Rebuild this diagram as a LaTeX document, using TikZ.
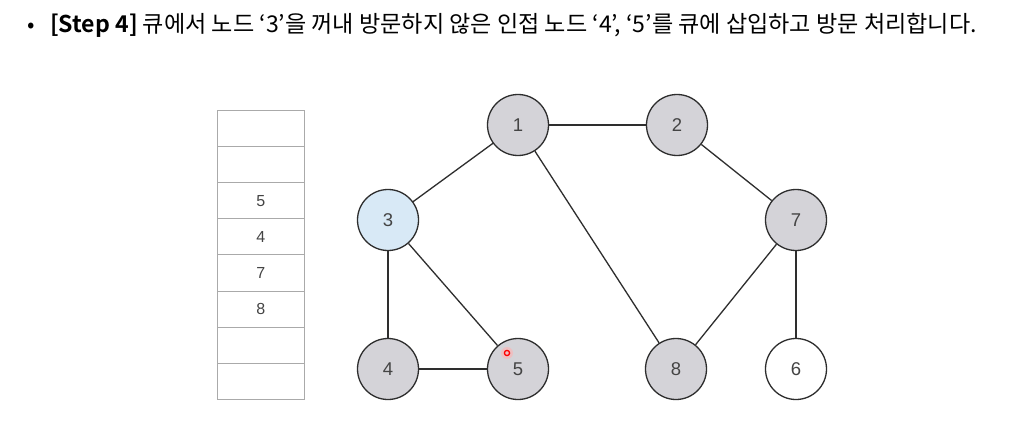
\documentclass[tikz,border=0pt]{standalone}
\usepackage{fontspec}
\setmainfont{Liberation Sans}
\newfontfamily\krfont{Noto Sans CJK KR}
\newfontfamily\krbold{Noto Sans CJK KR Bold}
\definecolor{nodegray}{HTML}{D4D3D8}
\definecolor{nodeblue}{HTML}{D8E9F6}
\definecolor{edgecol}{HTML}{2E2E2E}
\definecolor{numcol}{HTML}{444444}
\definecolor{qline}{HTML}{AAAAAA}
\tikzset{
  gnode/.style={circle, draw=edgecol, line width=1.3pt, minimum size=61pt, inner sep=0pt,
    font=\fontsize{18.5}{18}\selectfont, text=numcol},
  visited/.style={gnode, fill=nodegray},
  current/.style={gnode, fill=nodeblue},
  fresh/.style={gnode, fill=white},
  edge/.style={draw=edgecol, line width=1.3pt},
  qcell/.style={draw=qline, line width=0.8pt, minimum width=87pt, minimum height=36.1pt,
    inner sep=0pt, anchor=north west, font=\fontsize{16}{16}\selectfont, text=numcol}
}
\begin{document}
\begin{tikzpicture}[x=1pt,y=-1pt]
\useasboundingbox (0,0) rectangle (1036,425);
\fill[white] (0,0) rectangle (1036,425);
% title
\node[anchor=base west, inner sep=0pt, font=\fontsize{22}{22}\selectfont] (bullet) at (27,33) {\krfont •};
\node[anchor=base west, inner sep=0pt, font=\fontsize{23.1}{23}\selectfont] (title) at (50,33)
  {\krbold [Step 4]\krfont{} 큐에서 노드 ‘3’을 꺼내 방문하지 않은 인접 노드 ‘4’, ‘5’를 큐에 삽입하고 방문 처리합니다.};
% queue
\node[qcell] (q1) at (217,110.0) {};
\node[qcell] (q2) at (217,146.1) {};
\node[qcell] (q3) at (217,182.2) {5};
\node[qcell] (q4) at (217,218.3) {4};
\node[qcell] (q5) at (217,254.4) {7};
\node[qcell] (q6) at (217,290.5) {8};
\node[qcell] (q7) at (217,326.6) {};
\node[qcell] (q8) at (217,362.7) {};
% graph nodes
\node[visited] (n1) at (518,125) {1};
\node[visited] (n2) at (677,125) {2};
\node[current] (n3) at (388,220) {3};
\node[visited] (n7) at (796,220) {7};
\node[visited] (n4) at (388,369) {4};
\node[visited] (n5) at (518,369) {5};
\node[visited] (n8) at (676,369) {8};
\node[fresh]   (n6) at (796,369) {6};
% edges
\draw[edge] (n1) -- (n2);
\draw[edge] (n1) -- (n3);
\draw[edge] (n1) -- (n8);
\draw[edge] (n2) -- (n7);
\draw[edge] (n3) -- (n4);
\draw[edge] (n3) -- (n5);
\draw[edge] (n4) -- (n5);
\draw[edge] (n7) -- (n8);
\draw[edge] (n7) -- (n6);
% pointer dot
\fill[red!30, opacity=0.6] (507,353) circle (6);
\draw[red, line width=1.3pt] (507,353) circle (2.6);
\end{tikzpicture}
\end{document}
